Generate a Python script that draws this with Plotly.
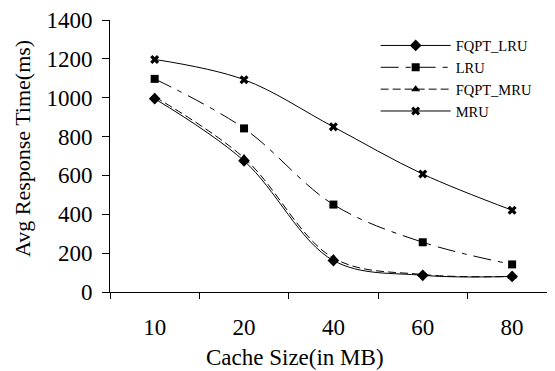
import plotly.graph_objects as go

categories = ["10", "20", "40", "60", "80"]
fqpt_lru = [995, 675, 162, 86, 80]
lru = [1097, 842, 450, 256, 142]
fqpt_mru = [1005, 690, 175, 90, 80]
mru = [1197, 1093, 850, 607, 421]
y_ticks = [0, 200, 400, 600, 800, 1000, 1200, 1400]

FONT = "Liberation Serif, Times New Roman, serif"

fig = go.Figure()
series = [
    ("FQPT_LRU", fqpt_lru, "solid", "diamond", 9),
    ("LRU", lru, "18px,7px,5px,7px", "square", 8),
    ("FQPT_MRU", fqpt_mru, "8px,4px", "triangle-up", 8),
    ("MRU", mru, "solid", "x", 8),
]
for name, vals, dash, sym, size in series:
    fig.add_trace(go.Scatter(
        x=categories, y=vals, name=name, mode="lines+markers",
        line=dict(color="black", width=1, dash=dash, shape="spline", smoothing=1.0),
        marker=dict(symbol=sym, size=size, color="black"),
    ))

# page body has an 8px default margin, so the figure is sized to fit the window
fig.update_layout(
    width=547, height=363,
    margin=dict(l=102, r=0, t=12, b=79),
    paper_bgcolor="white", plot_bgcolor="white",
    font=dict(family=FONT, color="black", size=23),
    showlegend=True,
    legend=dict(x=0.597, y=0.965, xanchor="left", yanchor="top",
                font=dict(family=FONT, size=14.5, color="black"),
                itemwidth=70, tracegroupgap=0, bgcolor="rgba(0,0,0,0)"),
    xaxis=dict(
        type="category", range=[-0.5, 4.48], automargin=False,
        showline=True, linecolor="black", linewidth=1,
        ticks="outside", tickson="boundaries", ticklen=6, tickcolor="black",
        showgrid=False, zeroline=False,
        ticklabelstandoff=14,
        tickfont=dict(size=23),
    ),
    yaxis=dict(
        range=[0, 1400], tickvals=y_ticks, automargin=False,
        showline=True, linecolor="black", linewidth=1,
        ticks="outside", ticklen=7, tickcolor="black",
        showgrid=False, zeroline=False,
        ticklabelstandoff=5,
        tickfont=dict(size=23),
    ),
    annotations=[
        dict(text="Cache Size(in MB)", xref="paper", yref="paper",
             x=0.416, y=-0.239, xanchor="center", yanchor="middle",
             showarrow=False, font=dict(family=FONT, size=23, color="black")),
        dict(text="Avg Response Time(ms)", xref="paper", yref="paper",
             x=-0.198, y=0.529, xanchor="center", yanchor="middle", textangle=-90,
             showarrow=False, font=dict(family=FONT, size=22, color="black")),
    ],
)

fig.write_html("out.html")
